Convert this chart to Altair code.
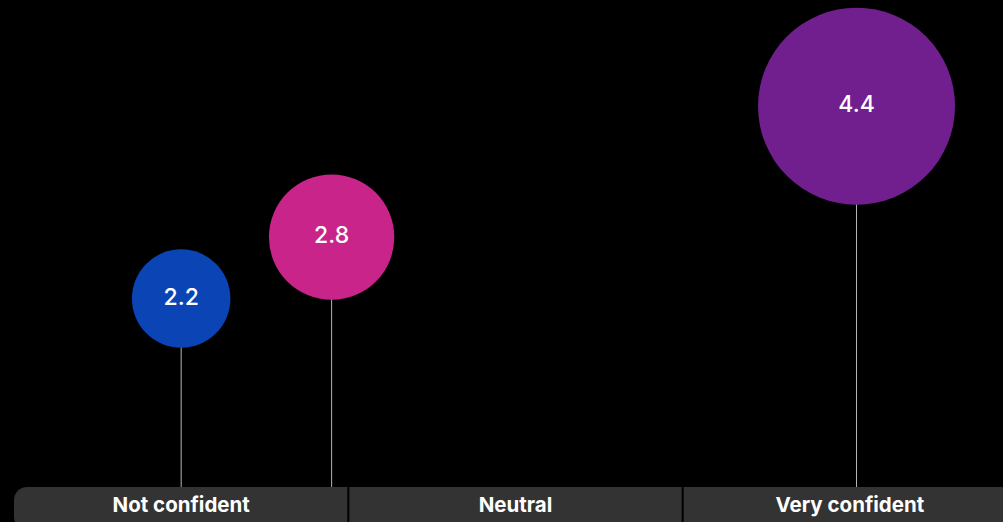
import altair as alt
import pandas as pd

# Data
values = [2.2, 2.8, 4.4]
labels = ["2.2", "2.8", "4.4"]
# horizontal position on the confidence scale (0 = left end, 3 = right end)
x_pos = [0.5, 0.95, 2.52]
# vertical level of the bubble centre (0 = band top, 100 = chart top)
levels = [38.7, 51.3, 78.2]
colors = ["#0a44b5", "#c9248a", "#711f8f"]

categories = ["Not confident", "Neutral", "Very confident"]
cat_centres = [0.5, 1.5, 2.5]
dividers = [1, 2]

bubbles = pd.DataFrame({"value": values, "label": labels, "x": x_pos,
                        "level": levels, "color": colors})
cats = pd.DataFrame({"cat": categories, "x": cat_centres})
divs = pd.DataFrame({"x": dividers})
band = pd.DataFrame({"x": [0], "x2": [3]})

xs = alt.Scale(domain=[0, 3], range=[14, 1017])
ys = alt.Scale(domain=[0, 100], range=[487, 0])

band_bar = alt.Chart(band).mark_bar(color="#333333", cornerRadius=13).encode(
    x=alt.X("x:Q", scale=xs, axis=None),
    x2="x2:Q",
    y=alt.value(487),
    y2=alt.value(530),
)

div_rules = alt.Chart(divs).mark_rule(color="#000000", strokeWidth=2).encode(
    x=alt.X("x:Q", scale=xs, axis=None),
    y=alt.value(487),
    y2=alt.value(522),
)

cat_text = alt.Chart(cats).mark_text(
    font="Inter", fontSize=20.5, fontWeight=700, color="#ffffff", baseline="middle"
).encode(
    x=alt.X("x:Q", scale=xs, axis=None),
    y=alt.value(506),
    text="cat:N",
)

stems = alt.Chart(bubbles).mark_rule(color="#b5b5b5", strokeWidth=1).encode(
    x=alt.X("x:Q", scale=xs, axis=None),
    y=alt.Y("level:Q", scale=ys, axis=None),
    y2=alt.value(487),
)

circles = alt.Chart(bubbles).transform_calculate(
    sq="datum.value * datum.value"
).mark_circle(opacity=1).encode(
    x=alt.X("x:Q", scale=xs, axis=None),
    y=alt.Y("level:Q", scale=ys, axis=None),
    size=alt.Size("sq:Q", scale=alt.Scale(domain=[0, 19.36], range=[0, 38809], zero=True), legend=None),
    color=alt.Color("color:N", scale=None),
)

circle_text = alt.Chart(bubbles).mark_text(
    font="Inter", fontSize=23, fontWeight=500, color="#ffffff", baseline="middle", dy=-1
).encode(
    x=alt.X("x:Q", scale=xs, axis=None),
    y=alt.Y("level:Q", scale=ys, axis=None),
    text="label:N",
)

chart = alt.layer(band_bar, div_rules, cat_text, stems, circles, circle_text).properties(
    width=1003, height=522, background="#000000", padding=0,
    autosize=alt.AutoSizeParams(type="none"),
).configure_view(stroke=None)

chart.save("out.html", embed_options={"renderer": "svg", "actions": False})
